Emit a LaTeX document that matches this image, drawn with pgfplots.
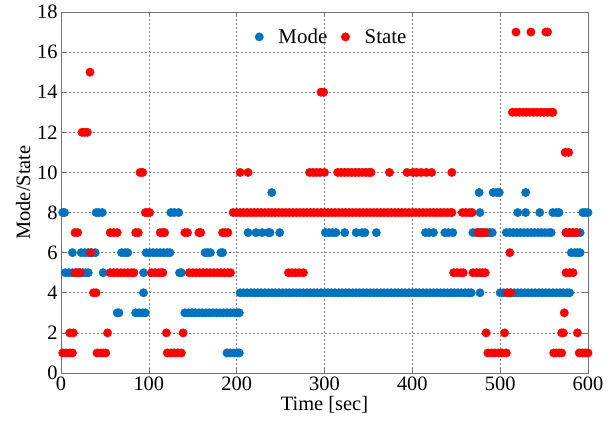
\documentclass[border=0pt]{standalone}
\usepackage{fontspec}
\setmainfont{Liberation Serif}
\usepackage{pgfplots}
\pgfplotsset{compat=1.18}
\definecolor{mblue}{HTML}{0072BD}
\definecolor{mred}{HTML}{FF0000}
\begin{document}
\begin{tikzpicture}
\begin{axis}[
 scale only axis, width=527bp, height=361bp,
 xmin=0, xmax=600, ymin=0, ymax=18,
 xtick={0,100,...,600}, ytick={0,2,...,18},
 clip=false,
 axis line style={black!55, line width=0.6bp},
 tick align=inside, major tick length=5bp,
 tick style={black!55, line width=0.6bp},
 grid=major,
 grid style={black!50, dash pattern=on 2bp off 2bp, line width=0.6bp},
 ticklabel style={font=\fontsize{20.5}{24}\selectfont},
 /pgf/number format/assume math mode=true,
 xlabel={Time [sec]}, ylabel={Mode/State},
 label style={font=\fontsize{20.5}{24}\selectfont},
 xlabel style={at={(axis description cs:0.5,-0.089)}, anchor=center},
 ylabel style={at={(axis description cs:-0.072,0.5)}, anchor=center},
 legend image code/.code={\path (-7bp,0bp) (17bp,0bp); \draw[#1] plot coordinates {(0bp,0bp)};},
 legend style={at={(axis description cs:0.511,0.931)}, anchor=center, draw=none, fill=none,
   font=\fontsize{21}{24}\selectfont, legend columns=2,
   /tikz/every even column/.append style={column sep=9bp}},
 legend cell align=left,
]
\addplot[only marks, mark=*, mark size=4.2bp, color=mblue, mark options={fill=mblue, draw=mblue}] coordinates {
(2,8)(4,8)(40,8)(43,8)(47,8)(125,8)(129,8)(134,8)(477,8)(520,8)(529,8)(545,8)(560,8)(564,8)(567,8)(594,8)(597,8)(600,8)
(240,9)(476,9)(492,9)(496,9)(499,9)(529,9)
(213,7)(222,7)(229,7)(236,7)(238,7)(249,7)(301,7)(305,7)(309,7)(313,7)(323,7)(336,7)(343,7)(346,7)(359,7)
(415,7)(419,7)(424,7)(437,7)(441,7)(446,7)(469,7)(473,7)(477,7)(481,7)(485,7)(488,7)(491,7)
(507,7)(511,7)(515,7)(519,7)(523,7)(527,7)(531,7)(535,7)(539,7)(543,7)(547,7)(551,7)(555,7)(558,7)
(575,7)(579,7)(583,7)(587,7)(591,7)
(13,6)(23,6)(27,6)(31,6)(35,6)(39,6)(69,6)(73,6)(76,6)(97,6)(101,6)(105,6)(109,6)(113,6)(117,6)(121,6)(124,6)
(164,6)(167,6)(170,6)(182,6)(184,6)(581,6)(585,6)(588,6)(591,6)
(5,5)(9,5)(13,5)(17,5)(21,5)(25,5)(28,5)(31,5)(48,5)(94,5)(135,5)(137,5)
(94,4)(204,4)(208,4)(212,4)(216,4)(220,4)(224,4)(228,4)(232,4)(236,4)(240,4)(244,4)(248,4)(252,4)(256,4)(260,4)
(264,4)(268,4)(272,4)(276,4)(280,4)(284,4)(288,4)(292,4)(296,4)(300,4)(304,4)(308,4)(312,4)(316,4)(320,4)
(324,4)(328,4)(332,4)(336,4)(340,4)(344,4)(348,4)(352,4)(356,4)(360,4)(364,4)(368,4)(372,4)(376,4)(380,4)
(384,4)(388,4)(392,4)(396,4)(400,4)(404,4)(408,4)(412,4)(416,4)(420,4)(424,4)(428,4)(432,4)(436,4)(440,4)
(444,4)(448,4)(452,4)(456,4)(460,4)(464,4)(467,4)(477,4)
(500,4)(504,4)(508,4)(512,4)(516,4)(520,4)(524,4)(528,4)(532,4)(536,4)(540,4)(544,4)(548,4)(552,4)(556,4)
(560,4)(564,4)(568,4)(572,4)(576,4)(579,4)
(64,3)(66,3)(85,3)(89,3)(93,3)(96,3)(141,3)(145,3)(149,3)(153,3)(157,3)(161,3)(165,3)(169,3)(173,3)(177,3)
(181,3)(185,3)(189,3)(193,3)(197,3)(201,3)(203,3)
(189,1)(193,1)(197,1)(201,1)(203,1)
};
\addlegendentry{Mode}
\addplot[only marks, mark=*, mark size=4.2bp, color=mred, mark options={fill=mred, draw=mred}] coordinates {
(518,17)(535,17)(552,17)(554,17)
(33,15)
(296,14)(299,14)
(514,13)(518,13)(522,13)(526,13)(530,13)(534,13)(538,13)(542,13)(546,13)(550,13)(554,13)(558,13)(560,13)
(24,12)(27,12)(30,12)
(574,11)(578,11)
(90,10)(93,10)(204,10)(213,10)(283,10)(287,10)(291,10)(295,10)(300,10)
(315,10)(319,10)(323,10)(327,10)(331,10)(335,10)(339,10)(343,10)(347,10)(351,10)(353,10)
(374,10)(394,10)(401,10)(405,10)(410,10)(416,10)(422,10)(445,10)
(96,8)(99,8)(101,8)
(196,8)(200,8)(204,8)(208,8)(212,8)(216,8)(220,8)(224,8)(228,8)(232,8)(236,8)(240,8)(244,8)(248,8)(252,8)
(256,8)(260,8)(264,8)(268,8)(272,8)(276,8)(280,8)(284,8)(288,8)(292,8)(296,8)(300,8)(304,8)(308,8)(312,8)
(316,8)(320,8)(324,8)(328,8)(332,8)(336,8)(340,8)(344,8)(348,8)(352,8)(356,8)(360,8)(364,8)(368,8)(372,8)
(376,8)(380,8)(384,8)(388,8)(392,8)(396,8)(400,8)(404,8)(408,8)(412,8)(416,8)(420,8)(424,8)(428,8)(432,8)
(436,8)(440,8)(444,8)(445,8)(457,8)(461,8)(465,8)(468,8)
(16,7)(19,7)(56,7)(60,7)(64,7)(85,7)(88,7)(113,7)(116,7)(118,7)(141,7)(144,7)(157,7)(159,7)(184,7)(187,7)(190,7)
(475,7)(479,7)(483,7)(575,7)(579,7)(583,7)(587,7)
(34,6)(511,6)
(16,5)(19,5)(22,5)(56,5)(60,5)(64,5)(68,5)(72,5)(76,5)(80,5)(83,5)(103,5)(107,5)(111,5)(114,5)(116,5)
(146,5)(150,5)(154,5)(158,5)(162,5)(166,5)(170,5)(174,5)(178,5)(182,5)(186,5)(190,5)(193,5)
(259,5)(263,5)(267,5)(271,5)(276,5)(447,5)(451,5)(455,5)(458,5)(469,5)(473,5)(477,5)(480,5)(483,5)
(575,5)(579,5)(583,5)
(37,4)(40,4)(508,4)(512,4)
(573,3)
(10,2)(14,2)(53,2)(120,2)(139,2)(484,2)(505,2)(570,2)(572,2)(588,2)
(2,1)(6,1)(10,1)(13,1)(41,1)(45,1)(48,1)(51,1)(121,1)(125,1)(129,1)(133,1)(137,1)
(486,1)(490,1)(494,1)(498,1)(502,1)(507,1)(561,1)(564,1)(567,1)(570,1)(590,1)(594,1)(597,1)(600,1)
};
\addlegendentry{State}
\coordinate (sw) at (rel axis cs:0,0);
\coordinate (ne) at (rel axis cs:1,1);
\end{axis}
\pgfresetboundingbox
\path[use as bounding box] ([shift={(-61bp,-52bp)}]sw) rectangle ([shift={(23bp,12bp)}]ne);
\end{tikzpicture}
\end{document}
